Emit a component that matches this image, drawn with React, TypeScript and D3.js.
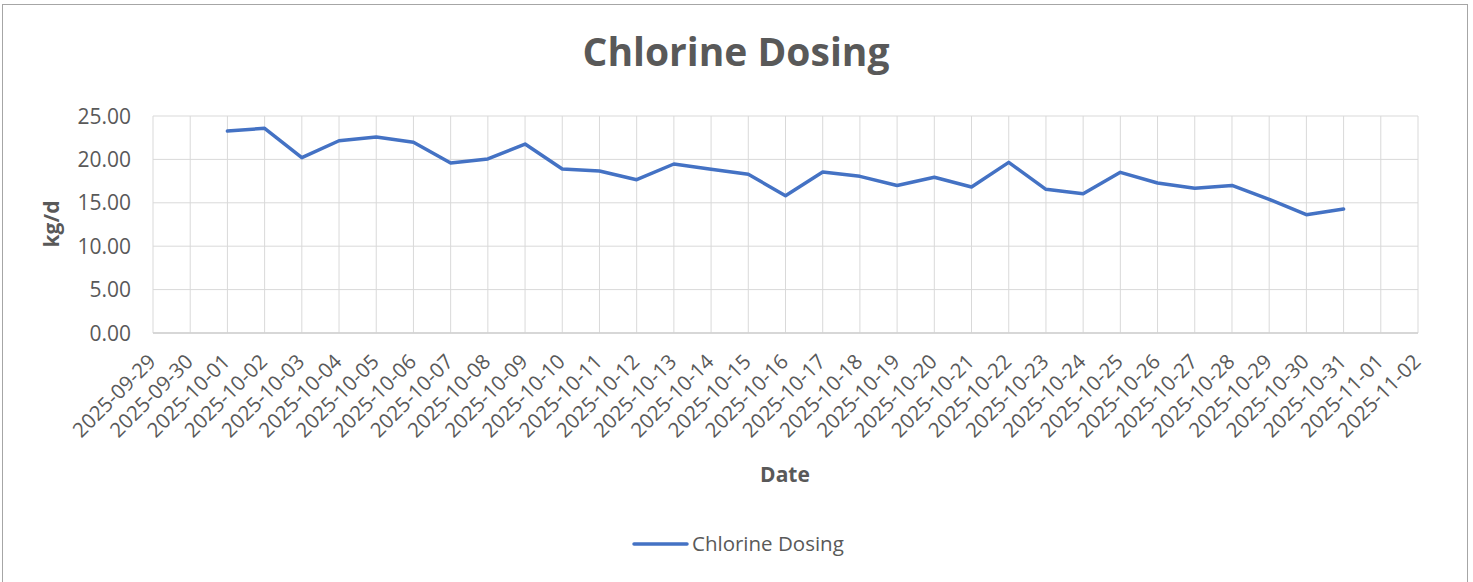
import React from 'react';
import * as d3 from 'd3';

const dateLabels = [
  '2025-09-29', '2025-09-30', '2025-10-01', '2025-10-02', '2025-10-03', '2025-10-04', '2025-10-05',
  '2025-10-06', '2025-10-07', '2025-10-08', '2025-10-09', '2025-10-10', '2025-10-11', '2025-10-12',
  '2025-10-13', '2025-10-14', '2025-10-15', '2025-10-16', '2025-10-17', '2025-10-18', '2025-10-19',
  '2025-10-20', '2025-10-21', '2025-10-22', '2025-10-23', '2025-10-24', '2025-10-25', '2025-10-26',
  '2025-10-27', '2025-10-28', '2025-10-29', '2025-10-30', '2025-10-31', '2025-11-01', '2025-11-02',
];

// dates that actually have a reading
const sampleDates = dateLabels.slice(2, 33);

const chlorineDosing = [
  23.27, 23.58, 20.2, 22.15, 22.58, 21.97, 19.58, 20.05, 21.77, 18.9, 18.66, 17.66, 19.47, 18.86,
  18.28, 15.82, 18.55, 18.05, 17.0, 17.94, 16.82, 19.66, 16.55, 16.05, 18.51, 17.28, 16.67, 17.0,
  15.4, 13.63, 14.29,
];

const yTicks = [0, 5, 10, 15, 20, 25];

const W = 1473;
const H = 582;
const FONT = "'Open Sans', sans-serif";
const TEXT = '#595959';

export default function App() {
  const plot = { left: 153, right: 1418, top: 116, bottom: 333 };

  const x = d3.scalePoint<string>().domain(dateLabels).range([plot.left, plot.right]);
  const y = d3.scaleLinear().domain([0, 25]).range([plot.bottom, plot.top]);
  const fmt = d3.format('.2f');

  const points = sampleDates.map((d, i) => ({ d, v: chlorineDosing[i] }));
  const line = d3.line<{ d: string; v: number }>()
    .x(p => x(p.d) as number)
    .y(p => y(p.v));

  return (
    <div style={{ position: 'absolute', left: 0, top: 0 }}>
      <svg width={W} height={H} style={{ display: 'block', fontFamily: FONT }}>
        <rect x={0} y={0} width={W} height={H} fill="#fff" />
        <rect x={2.5} y={4.5} width={1465} height={600} fill="none" stroke="#a6a6a6" strokeWidth={1} />

        <text x={736} y={66} textAnchor="middle" fontSize={39} fontWeight="bold" fill={TEXT}>
          Chlorine Dosing
        </text>

        {yTicks.map(t => (
          <g key={'y' + t}>
            <line x1={plot.left} x2={plot.right} y1={y(t)} y2={y(t)} stroke="#d9d9d9" strokeWidth={1} />
            <text x={131} y={y(t)} dy="0.36em" textAnchor="end" fontSize={21} fill={TEXT}>
              {fmt(t)}
            </text>
          </g>
        ))}

        {dateLabels.map(d => (
          <g key={d}>
            <line x1={x(d)} x2={x(d)} y1={plot.top} y2={plot.bottom} stroke="#d9d9d9" strokeWidth={1} />
            <text
              transform={`translate(${(x(d) as number) + 4},363) rotate(-45)`}
              textAnchor="end"
              fontSize={20.5}
              fill={TEXT}
            >
              {d}
            </text>
          </g>
        ))}

        <line x1={plot.left} x2={plot.right} y1={plot.bottom} y2={plot.bottom} stroke="#d0d0d0" strokeWidth={1.5} />

        <path
          d={line(points) || ''}
          fill="none"
          stroke="#4472C4"
          strokeWidth={3.5}
          strokeLinejoin="round"
          strokeLinecap="round"
        />

        <text
          transform="translate(59,224) rotate(-90)"
          textAnchor="middle"
          fontSize={21}
          fontWeight="bold"
          fill={TEXT}
        >
          kg/d
        </text>

        <text x={785} y={482} textAnchor="middle" fontSize={21} fontWeight="bold" fill={TEXT}>
          Date
        </text>

        <line x1={634} x2={687} y1={544} y2={544} stroke="#4472C4" strokeWidth={3.5} strokeLinecap="round" />
        <text x={692} y={551} fontSize={20.5} fill={TEXT}>
          Chlorine Dosing
        </text>
      </svg>
    </div>
  );
}
